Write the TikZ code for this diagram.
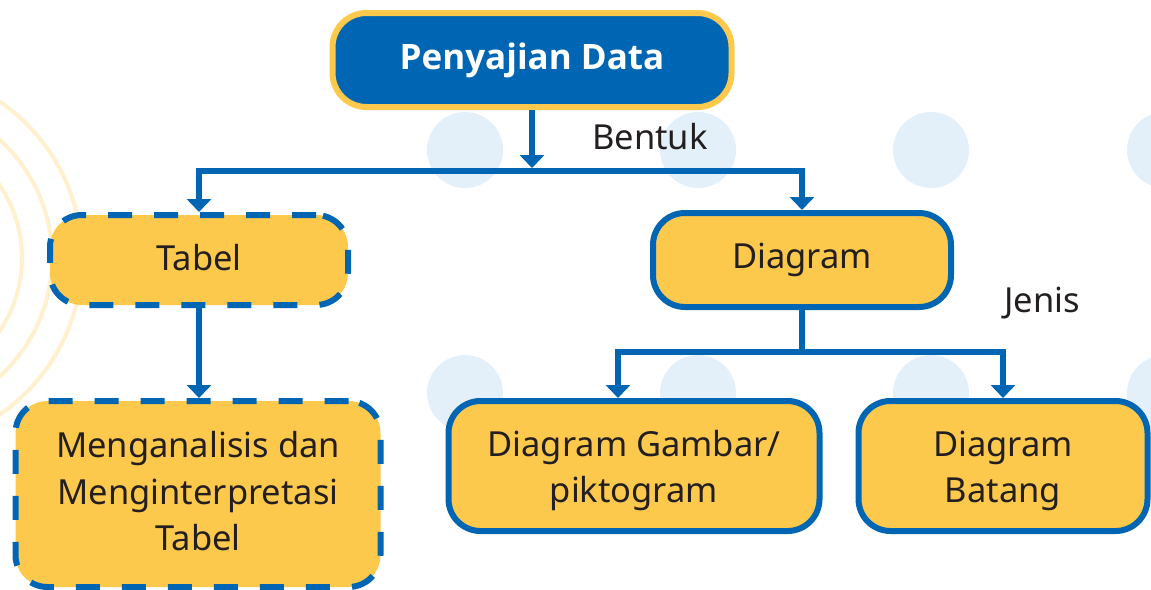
\documentclass[tikz,border=0pt]{standalone}
\usepackage{fontspec}
\setmainfont{Noto Sans}
\newfontfamily\headfont{Open Sans}
\usetikzlibrary{arrows.meta}
\definecolor{cblue}{HTML}{0066B3}
\definecolor{cyel}{HTML}{FDC94C}
\definecolor{ctext}{HTML}{231F20}
\definecolor{cdot}{HTML}{E4F0F9}
\definecolor{carc}{HTML}{FFF0CF}
\newcommand\mvtxt[2]{\raisebox{#1}[\height][\depth]{\begin{tabular}{@{}c@{}}#2\end{tabular}}}
\tikzset{
  box/.style={rectangle, rounded corners=32pt, line width=6pt, draw=cblue, fill=cyel,
    text=ctext, inner sep=0pt, font=\fontsize{34.5}{46.5}\selectfont},
  dashbox/.style={box, dash pattern=on 24pt off 22pt},
  topbox/.style={rectangle, rounded corners=34pt, line width=6pt, draw=cyel, fill=cblue,
    text=white, inner sep=0pt, font=\headfont\bfseries\fontsize{35}{40}\selectfont},
  conn/.style={line width=6pt, draw=cblue},
  arr/.style={conn, -{Triangle[width=24pt,length=13pt]}},
  lbl/.style={text=ctext, inner sep=0pt, font=\fontsize{34.5}{40}\selectfont},
  dot/.style={fill=cdot, draw=none},
  arcline/.style={draw=carc, line width=4pt}
}
\begin{document}
\begin{tikzpicture}[x=1pt,y=-1pt]
\useasboundingbox (0,0) rectangle (1151,589);
\clip (0,0) rectangle (1151,589);
% background decorations
\foreach \r in {130,160,190} \draw[arcline] (-108,258) circle[radius=\r];
\foreach \cx in {465,698,931,1165} {
  \fill[dot] (\cx,150) circle[radius=38];
  \fill[dot] (\cx,393) circle[radius=38];
}
% nodes
\node[topbox, minimum width=399pt, minimum height=94pt] (top) at (532,60) {Penyajian Data};
\node[dashbox, minimum width=298pt, minimum height=90pt] (tabel) at (199,260) {\mvtxt{-1pt}{Tabel}};
\node[box, minimum width=298pt, minimum height=94pt] (diagram) at (802,260) {Diagram};
\node[dashbox, minimum width=365pt, minimum height=186pt] (analisis) at (198,494) {\mvtxt{-1pt}{Menganalisis dan\\Menginterpretasi\\Tabel}};
\node[box, minimum width=371pt, minimum height=130pt] (gambar) at (634,466) {\mvtxt{-4pt}{Diagram Gambar/\\piktogram}};
\node[box, minimum width=289pt, minimum height=130pt] (batang) at (1003,466) {\mvtxt{-4pt}{Diagram\\Batang}};
% labels
\node[lbl] (bentuk) at (650,137) {Bentuk};
\node[lbl] (jenis) at (1042,303) {Jenis};
% connectors
\coordinate (tipA) at (532,168);
\coordinate (busA) at (532,171);
\coordinate (busB) at (802,352);
\coordinate (gx) at (618,352);
\draw[arr] (top.south) -- (tipA);
\draw[arr] (busA) -| (tabel.north);
\draw[arr] (busA) -| (diagram.north);
\draw[conn] (diagram.south) -- (busB);
\draw[arr] (busB) -| (gambar.north -| gx);
\draw[arr] (busB) -| (batang.north);
\draw[arr] (tabel.south) -- (analisis.north -| tabel.south);
\end{tikzpicture}
\end{document}
